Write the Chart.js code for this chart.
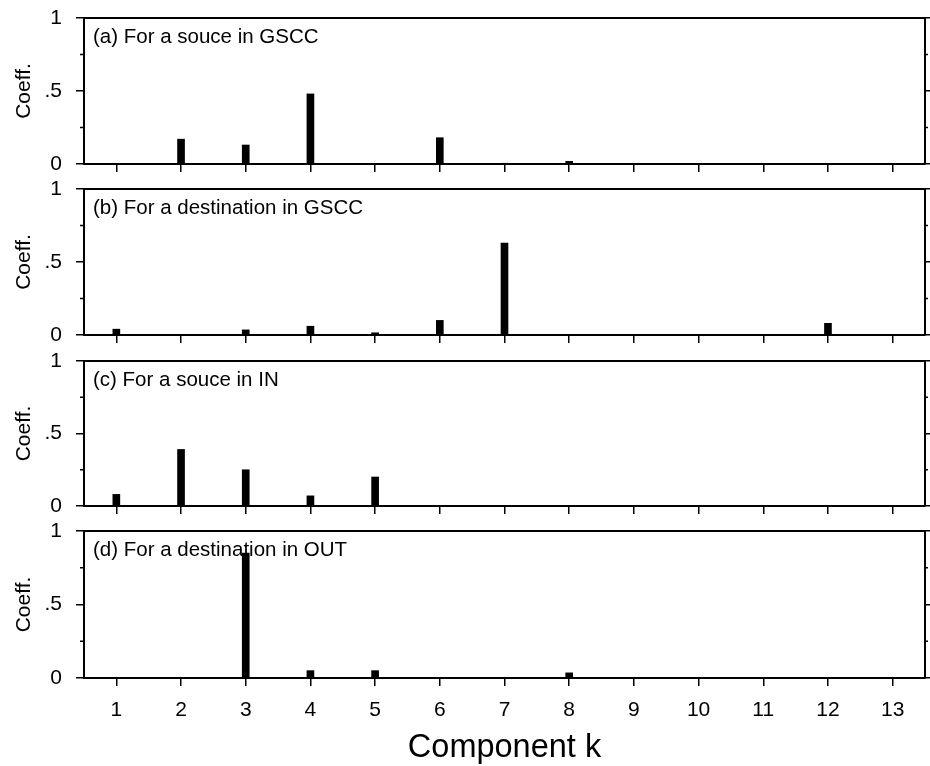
<!DOCTYPE html>
<html>
<head>
<meta charset="utf-8">
<script src="https://cdn.jsdelivr.net/npm/chart.js@4.4.1/dist/chart.umd.min.js"></script>
<style>
  body{margin:0;background:#fff;width:930px;height:766px;overflow:hidden;position:relative}
  canvas{position:absolute;left:0}
</style>
</head>
<body>
<canvas id="panelA" width="930" height="176" style="top:0px"></canvas>
<canvas id="panelB" width="930" height="171" style="top:176px"></canvas>
<canvas id="panelC" width="930" height="171" style="top:347px"></canvas>
<canvas id="panelD" width="930" height="248" style="top:518px"></canvas>
<script>

// datos
const componentes=['1','2','3','4','5','6','7','8','9','10','11','12','13']

const coefA=[0, 0.17, 0.13, 0.48, 0, 0.18, 0.005, 0.018, 0, 0, 0, 0, 0]
const coefB=[0.04, 0, 0.035, 0.06, 0.015, 0.10, 0.63, 0, 0, 0, 0, 0.08, 0]
const coefC=[0.08, 0.39, 0.25, 0.07, 0.20, 0, 0, 0, 0, 0, 0, 0, 0]
const coefD=[0, 0, 0.85, 0.05, 0.05, 0, 0, 0.035, 0, 0, 0, 0, 0]

const titulos=['(a) For a souce in GSCC','(b) For a destination in GSCC','(c) For a souce in IN','(d) For a destination in OUT']

const etiquetasY={0:'0',0.5:'.5',1:'1'}
const menoresY=[0.25,0.75]

const fuente='"Liberation Sans", Arial, Helvetica, sans-serif'

// quita el relleno automatico que mete chart.js por las etiquetas
function sinRelleno(s){
    s.paddingTop=0
    s.paddingBottom=0
    s.paddingLeft=0
    s.paddingRight=0
}

// marco de arriba, ticks chicos y el texto de cada panel
const marco={
    id:'marco',
    beforeDatasetsDraw(chart,args,opts){
        const ctx=chart.ctx
        const a=chart.chartArea
        ctx.save()
        ctx.font='20.5px '+fuente
        ctx.fillStyle='#000'
        ctx.textBaseline='middle'
        ctx.fillText(opts.texto,a.left+9,a.top+19)
        ctx.restore()
    },
    afterDraw(chart){
        const ctx=chart.ctx
        const a=chart.chartArea
        const y=chart.scales.y
        ctx.save()
        ctx.strokeStyle='#000'
        ctx.lineWidth=2
        ctx.beginPath()
        ctx.moveTo(a.left-1,a.top)
        ctx.lineTo(a.right+1,a.top)
        ctx.stroke()
        ctx.lineWidth=1.5
        menoresY.forEach((v)=>{
            const py=y.getPixelForValue(v)
            ctx.beginPath()
            ctx.moveTo(a.left-4,py)
            ctx.lineTo(a.left,py)
            ctx.moveTo(a.right,py)
            ctx.lineTo(a.right+3,py)
            ctx.stroke()
        })
        ctx.restore()
    }
}

function panel(id,valores,texto,ultimo,arriba){

    const ctx=document.getElementById(id)

    return new Chart(ctx,{
        type:'bar',
        data:{
            labels:componentes,
            datasets:[{
                data:valores,
                backgroundColor:'#000',
                borderWidth:0,
                barThickness:7
            }]
        },
        options:{
            responsive:false,
            animation:false,
            events:[],
            layout:{autoPadding:false,padding:{top:arriba,left:0,right:0,bottom:0}},
            plugins:{
                legend:{display:false},
                tooltip:{enabled:false},
                marco:{texto:texto}
            },
            scales:{
                x:{
                    offset:true,
                    grid:{display:true,drawOnChartArea:false,drawTicks:true,tickLength:8,offset:false,color:'#000',lineWidth:1.5},
                    border:{display:true,color:'#000',width:2},
                    ticks:{display:ultimo,color:'#000',font:{family:fuente,size:21},padding:12,maxRotation:0,autoSkip:false},
                    title:{display:ultimo,text:'Component k',color:'#000',font:{family:fuente,size:32.5,lineHeight:1.1},padding:{top:0,bottom:0}},
                    afterFit:(s)=>{s.height=ultimo?88:12; sinRelleno(s)}
                },
                y:{
                    position:'left',
                    min:0,max:1,
                    grid:{display:true,drawOnChartArea:false,drawTicks:true,tickLength:8,color:'#000',lineWidth:1.5},
                    border:{display:true,color:'#000',width:2},
                    ticks:{stepSize:0.5,color:'#000',font:{family:fuente,size:21},padding:14,
                        callback:(v)=>etiquetasY[v]},
                    title:{display:true,text:'Coeff.',color:'#000',font:{family:fuente,size:21},padding:{top:12,bottom:0}},
                    afterFit:(s)=>{s.width=84; sinRelleno(s)}
                },
                y2:{
                    position:'right',
                    min:0,max:1,
                    grid:{display:true,drawOnChartArea:false,drawTicks:true,tickLength:5,color:'#000',lineWidth:1.5},
                    border:{display:true,color:'#000',width:2},
                    ticks:{display:false,stepSize:0.5},
                    afterFit:(s)=>{s.width=5; sinRelleno(s)}
                }
            }
        },
        plugins:[marco]
    })
}

panel('panelA',coefA,titulos[0],false,18)
panel('panelB',coefB,titulos[1],false,13)
panel('panelC',coefC,titulos[2],false,14)
panel('panelD',coefD,titulos[3],true,13)

</script>
</body>
</html>
